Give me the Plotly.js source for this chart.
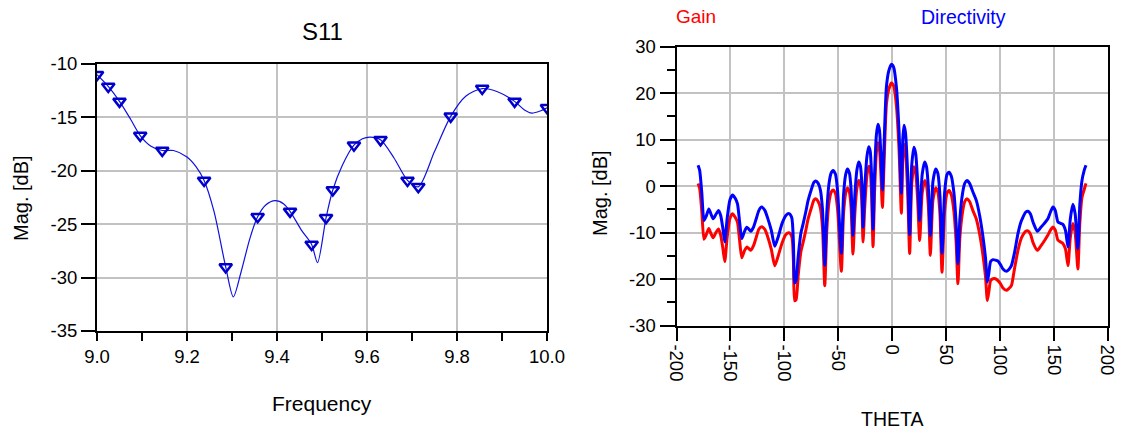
<!DOCTYPE html>
<html>
<head>
<meta charset="utf-8">
<script src="https://cdn.plot.ly/plotly-3.0.1.min.js"></script>
<style>
  html, body { margin: 0; padding: 0; background: #ffffff; }
  #chart { width: 1131px; height: 439px; }
</style>
</head>
<body>
<div id="chart"></div>
<script>
// ---- S11 return loss: smooth sweep and marked sample points ----
const s11Freq = [9.000, 9.025, 9.050, 9.075, 9.096, 9.120, 9.145, 9.170, 9.200, 9.220,
  9.238, 9.260, 9.286, 9.303, 9.320, 9.340, 9.357, 9.375, 9.396, 9.415,
  9.429, 9.455, 9.477, 9.490, 9.509, 9.524, 9.545, 9.571, 9.590, 9.607,
  9.630, 9.660, 9.690, 9.714, 9.750, 9.786, 9.820, 9.856, 9.890, 9.928,
  9.950, 9.966, 9.985, 10.000];
const s11Mag = [-11.0, -12.1, -13.5, -15.2, -16.7, -17.7, -18.1, -18.1, -18.7, -19.6,
  -20.9, -23.8, -29.0, -31.8, -29.5, -26.3, -24.3, -23.2, -22.8, -23.1,
  -23.8, -25.6, -26.9, -28.6, -24.4, -21.8, -19.5, -17.6, -17.0, -16.85,
  -17.1, -18.8, -20.9, -21.5, -18.2, -14.9, -13.0, -12.3, -12.6, -13.5,
  -14.3, -14.6, -14.4, -14.1];

const markerFreq = [9.000, 9.025, 9.050, 9.096, 9.145, 9.238, 9.286, 9.357, 9.429, 9.477,
  9.509, 9.524, 9.571, 9.630, 9.690, 9.714, 9.786, 9.856, 9.928, 10.000];
const markerMag = [-11.0, -12.1, -13.5, -16.7, -18.1, -20.9, -29.0, -24.3, -23.8, -26.9,
  -24.4, -21.8, -17.6, -17.1, -20.9, -21.5, -14.9, -12.3, -13.5, -14.1];

const s11MagTicks = [-35, -30, -25, -20, -15, -10];
const s11MagLabels = ['-35', '-30', '-25', '-20', '-15', '-10'];

// ---- Radiation pattern cut: Gain and Directivity vs THETA ----
const theta = [-180, -178.5, -176.5, -174.5, -172.5, -170, -168, -166, -163.5, -161,
  -159, -157, -155.2, -153, -150.5, -148, -145.5, -143.4, -141.5, -139.4,
  -137, -134.8, -133, -131, -128.5, -126, -123.5, -120.9, -118, -115.6,
  -112, -108.8, -105.5, -102, -98.5, -95.5, -93, -91.5, -90.3, -89,
  -87, -84.5, -82.5, -80, -77.9, -75, -72.5, -70.8, -68.5, -66.5,
  -64.5, -62.4, -60.5, -58.5, -56.5, -54.7, -52.5, -50.5, -47, -45,
  -43, -41.4, -39.5, -38, -36.2, -34.5, -32.5, -30.9, -29.3, -28,
  -26.9, -25.3, -23.3, -21.6, -20.2, -19, -17.6, -16.2, -14.5, -13,
  -11.6, -10.2, -8.9, -7.5, -5.2, -3, -0.6, 1.5, 4.1, 6.5,
  8.7, 10, 11.2, 12.5, 14.5, 16.4, 18.3, 20.4, 22, 23.8,
  25.7, 28, 30.3, 32, 33.8, 35.6, 38, 40.5, 42.5, 44.5,
  46.4, 48.8, 51, 52.9, 55, 57.5, 59.5, 61.2, 63, 65.5,
  67.5, 69.6, 72, 75, 78.3, 81.5, 84.5, 86.8, 88.5, 90,
  91.5, 93.7, 96, 98.3, 100.5, 103, 106.1, 108.5, 110.8, 113.5,
  116.9, 119.5, 121.5, 124, 126.2, 128.5, 131, 134.9, 138, 141,
  144.7, 147, 149.4, 151.5, 154, 156.5, 158.6, 161, 163.3, 165.5,
  167.9, 170, 172.5, 174.3, 176.3, 178.5, 180];

const gain = [0.6, -0.5, -5.5, -11.4, -10.5, -9.1, -10.2, -11.1, -10.0, -9.2,
  -10.5, -13.3, -16.2, -11.0, -7.0, -5.9, -6.7, -7.8, -11.5, -15.4,
  -13.9, -13.1, -13.4, -13.8, -12.8, -11.0, -9.2, -8.7, -9.3, -10.7,
  -13.6, -17.1, -14.9, -12.2, -10.4, -10.0, -10.8, -16.0, -24.6, -24.4,
  -19.0, -14.0, -12.1, -9.5, -7.1, -4.8, -3.0, -2.7, -3.3, -4.7,
  -9.0, -21.4, -9.5, -3.5, -1.3, -0.8, -1.5, -5.0, -18.3, -6.0,
  -1.5, -0.4, -1.3, -4.5, -14.6, -6.0, -0.3, 1.2, 0.3, -3.5,
  -12.0, -4.5, 2.3, 4.3, 3.4, -1.5, -13.0, -1.5, 7.2, 9.4,
  8.0, 2.0, -4.6, 4.0, 17.5, 20.8, 22.2, 21.6, 17.3, 8.0,
  -5.8, 6.0, 9.0, 7.5, -1.0, -14.5, 0.5, 4.2, 3.0, -3.0,
  -11.7, -1.5, 1.2, 0.2, -4.5, -14.9, -3.0, -0.4, -1.2, -6.0,
  -18.5, -5.5, -1.5, -0.9, -1.8, -5.5, -12.0, -21.0, -11.0, -5.5,
  -3.3, -2.7, -3.3, -5.2, -7.1, -10.5, -15.0, -19.5, -24.6, -22.5,
  -20.3, -19.9, -19.9, -20.3, -20.9, -21.9, -22.4, -22.0, -21.4, -18.0,
  -13.8, -11.5, -10.5, -9.7, -9.6, -10.3, -12.2, -13.8, -12.9, -11.9,
  -10.5, -9.5, -8.8, -9.4, -11.6, -12.0, -12.3, -13.5, -17.1, -11.0,
  -8.0, -10.0, -17.8, -8.0, -2.4, -0.6, 0.6];

const directivity = [4.5, 3.4, -1.5, -7.4, -6.5, -4.9, -6.0, -7.0, -6.1, -5.2,
  -6.3, -9.0, -12.0, -7.0, -3.0, -1.9, -2.6, -3.8, -7.5, -11.3,
  -9.8, -8.8, -9.2, -9.7, -8.8, -7.0, -5.2, -4.5, -5.2, -6.7,
  -9.5, -12.9, -10.8, -8.0, -6.3, -5.9, -6.8, -12.0, -20.8, -20.2,
  -15.0, -10.0, -8.1, -5.5, -3.1, -0.8, 0.8, 1.1, 0.6, -0.8,
  -5.0, -17.0, -5.5, 0.5, 2.8, 3.4, 2.6, -1.0, -14.4, -2.0,
  2.5, 3.7, 2.8, -0.5, -10.6, -2.0, 3.6, 5.2, 4.3, 0.5,
  -8.8, -0.5, 6.3, 8.5, 7.5, 2.5, -9.2, 2.5, 11.0, 13.3,
  12.0, 6.0, -0.8, 8.0, 21.3, 24.8, 26.2, 25.6, 21.3, 12.0,
  -1.5, 10.0, 13.1, 11.5, 3.0, -10.4, 4.5, 8.4, 7.0, 1.0,
  -7.4, 2.5, 5.2, 4.2, -0.5, -10.6, 1.0, 3.7, 2.8, -2.0,
  -14.4, -1.5, 2.5, 3.0, 2.2, -1.5, -8.0, -16.7, -7.0, -1.5,
  0.6, 1.2, 0.6, -1.2, -3.1, -6.5, -11.0, -15.5, -20.6, -18.5,
  -16.2, -15.8, -15.9, -16.1, -16.8, -17.8, -18.3, -17.9, -17.1, -14.5,
  -10.2, -7.8, -6.7, -5.6, -5.4, -6.0, -7.8, -9.7, -8.9, -8.1,
  -7.0, -5.6, -4.5, -5.2, -7.7, -8.0, -8.2, -9.5, -13.1, -7.0,
  -3.9, -6.0, -13.5, -4.0, 1.2, 3.5, 4.5];

const thetaTicks = [-200, -150, -100, -50, 0, 50, 100, 150, 200];
const thetaLabels = ['-200', '-150', '-100', '-50', '0', '50', '100', '150', '200'];
const patternTicks = [-30, -20, -10, 0, 10, 20, 30];
const patternLabels = ['-30', '-20', '-10', '0', '10', '20', '30'];

// ---- page geometry (paper spans the whole 1131 x 439 view) ----
const W = 1131, H = 439;
const px = v => v / W;
const py = v => 1 - v / H;

const fontFamily = 'Liberation Sans, Arial, sans-serif';
const tickFont = { family: fontFamily, size: 18.5, color: '#000000' };
const gridColor = '#c2c2c2';

const traces = [
  {
    x: s11Freq, y: s11Mag, xaxis: 'x', yaxis: 'y',
    type: 'scatter', mode: 'lines',
    line: { color: '#1010e0', width: 1.2, shape: 'spline', smoothing: 0.8 },
    hoverinfo: 'skip', showlegend: false
  },
  {
    x: markerFreq, y: markerMag, xaxis: 'x', yaxis: 'y',
    type: 'scatter', mode: 'markers',
    marker: { symbol: 'triangle-down-open', size: 11, color: '#0000cc',
              line: { color: '#0000cc', width: 2.5 } },
    hoverinfo: 'skip', showlegend: false
  },
  {
    x: theta, y: gain, xaxis: 'x2', yaxis: 'y2', name: 'Gain',
    type: 'scatter', mode: 'lines',
    line: { color: '#ff0000', width: 3, shape: 'spline', smoothing: 0.6 },
    hoverinfo: 'skip', showlegend: false
  },
  {
    x: theta, y: directivity, xaxis: 'x2', yaxis: 'y2', name: 'Directivity',
    type: 'scatter', mode: 'lines',
    line: { color: '#0000ff', width: 3, shape: 'spline', smoothing: 0.6 },
    hoverinfo: 'skip', showlegend: false
  }
];

const boxAxis = {
  showline: true, linecolor: '#000000', linewidth: 2, mirror: true,
  showgrid: true, gridcolor: gridColor, gridwidth: 2,
  zeroline: false, ticks: 'outside', tickcolor: '#000000', tickwidth: 2,
  tickfont: tickFont, fixedrange: true
};

const layout = {
  width: W, height: H,
  margin: { l: 0, r: 0, t: 0, b: 0 },
  paper_bgcolor: '#ffffff', plot_bgcolor: '#ffffff',
  showlegend: false,
  font: { family: fontFamily, color: '#000000' },
  xaxis: Object.assign({}, boxAxis, {
    domain: [px(97), px(547)], range: [9, 10],
    dtick: 0.2, tick0: 9, tickformat: '.1f', ticklen: 8,
    minor: { dtick: 0.1, ticks: 'outside', ticklen: 8, tickwidth: 2, tickcolor: '#000000', showgrid: false },
    anchor: 'y'
  }),
  yaxis: Object.assign({}, boxAxis, {
    domain: [py(331), py(64)], range: [-35, -10],
    tickmode: 'array', tickvals: s11MagTicks, ticktext: s11MagLabels,
    ticklen: 14, anchor: 'x'
  }),
  xaxis2: Object.assign({}, boxAxis, {
    domain: [px(676.5), px(1107.5)], range: [-200, 200],
    tickmode: 'array', tickvals: thetaTicks, ticktext: thetaLabels,
    ticklen: 13, tickangle: 90, anchor: 'y2'
  }),
  yaxis2: Object.assign({}, boxAxis, {
    domain: [py(325.7), py(46.7)], range: [-30, 30],
    tickmode: 'array', tickvals: patternTicks, ticktext: patternLabels,
    ticklen: 15,
    minor: { dtick: 5, tick0: 0, ticks: 'outside', ticklen: 8, tickwidth: 2, tickcolor: '#000000', showgrid: false },
    anchor: 'x2'
  }),
  annotations: [
    { text: 'S11', x: px(322), y: py(31), xref: 'paper', yref: 'paper',
      showarrow: false, xanchor: 'center', yanchor: 'middle',
      font: { family: fontFamily, size: 24, color: '#000000' } },
    { text: 'Frequency', x: px(322), y: py(403), xref: 'paper', yref: 'paper',
      showarrow: false, xanchor: 'center', yanchor: 'middle',
      font: { family: fontFamily, size: 21, color: '#000000' } },
    { text: 'Mag. [dB]', x: px(21), y: py(198), xref: 'paper', yref: 'paper',
      showarrow: false, xanchor: 'center', yanchor: 'middle', textangle: -90,
      font: { family: fontFamily, size: 20, color: '#000000' } },
    { text: 'Gain', x: px(696), y: py(17), xref: 'paper', yref: 'paper',
      showarrow: false, xanchor: 'center', yanchor: 'middle',
      font: { family: fontFamily, size: 19, color: '#ff0000' } },
    { text: 'Directivity', x: px(963), y: py(17), xref: 'paper', yref: 'paper',
      showarrow: false, xanchor: 'center', yanchor: 'middle',
      font: { family: fontFamily, size: 19.5, color: '#0000ff' } },
    { text: 'Mag. [dB]', x: px(600), y: py(193), xref: 'paper', yref: 'paper',
      showarrow: false, xanchor: 'center', yanchor: 'middle', textangle: -90,
      font: { family: fontFamily, size: 20, color: '#000000' } },
    { text: 'THETA', x: px(892), y: py(419), xref: 'paper', yref: 'paper',
      showarrow: false, xanchor: 'center', yanchor: 'middle',
      font: { family: fontFamily, size: 19.5, color: '#000000' } }
  ]
};

Plotly.newPlot('chart', traces, layout, { staticPlot: true, displayModeBar: false });
</script>
</body>
</html>
